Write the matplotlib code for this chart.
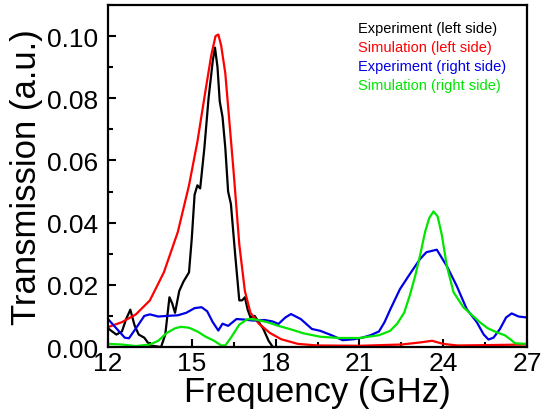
import matplotlib
matplotlib.use("Agg")
import matplotlib.pyplot as plt
from matplotlib.ticker import MultipleLocator

plt.rcParams['font.family'] = ['Liberation Sans', 'DejaVu Sans']

# experiment, left side
f_exp_left = [12.0, 12.3, 12.5, 12.65, 12.8, 12.95, 13.1, 13.3, 13.5, 13.9, 14.05, 14.2, 14.3, 14.4,
              14.55, 14.7, 14.9, 15.0, 15.1, 15.2, 15.3, 15.45, 15.6, 15.75, 15.83, 15.92, 16.0, 16.1,
              16.2, 16.3, 16.4, 16.55, 16.7, 16.8, 16.9, 17.0, 17.1, 17.25, 17.4, 17.55, 17.75, 17.9, 18.2]
t_exp_left = [0.006, 0.004, 0.005, 0.009, 0.012, 0.007, 0.004, 0.003, 0.0005, 0.0, 0.004, 0.016, 0.014, 0.011,
              0.018, 0.021, 0.024, 0.035, 0.049, 0.052, 0.051, 0.064, 0.080, 0.092, 0.0963, 0.090, 0.079, 0.074,
              0.064, 0.050, 0.046, 0.030, 0.015, 0.015, 0.016, 0.012, 0.0095, 0.010, 0.008, 0.006, 0.002, 0.0, 0.0]

# simulation, left side
f_sim_left = [12.0, 12.5, 13.0, 13.5, 14.0, 14.5, 14.9, 15.2, 15.5, 15.7, 15.85, 15.95, 16.05, 16.2,
              16.35, 16.5, 16.7, 16.9, 17.1, 17.4, 17.8, 18.2, 18.8, 19.5, 21.0, 22.5, 23.2, 23.6,
              24.0, 24.5, 25.5, 27.0]
t_sim_left = [0.0064, 0.0080, 0.0105, 0.0150, 0.024, 0.037, 0.052, 0.066, 0.083, 0.094, 0.100, 0.1005, 0.097, 0.088,
              0.072, 0.056, 0.033, 0.018, 0.011, 0.0075, 0.0045, 0.0025, 0.001, 0.0005, 0.0004, 0.0008, 0.0015, 0.002,
              0.001, 0.0005, 0.0006, 0.0008]

# experiment, right side
f_exp_right = [12.0, 12.3, 12.6, 12.75, 13.0, 13.3, 13.5, 13.8, 14.1, 14.5, 14.8, 15.1, 15.35, 15.55,
               15.75, 15.95, 16.1, 16.3, 16.6, 16.9, 17.2, 17.6, 17.9, 18.1, 18.35, 18.55, 18.9, 19.3,
               19.6, 20.0, 20.4, 20.8, 21.1, 21.4, 21.7, 21.9, 22.1, 22.45, 22.8, 23.17, 23.4, 23.77,
               24.13, 24.48, 24.84, 25.2, 25.45, 25.62, 25.8, 26.03, 26.25, 26.45, 26.7, 27.0]
t_exp_right = [0.009, 0.006, 0.003, 0.0028, 0.006, 0.010, 0.0105, 0.0098, 0.0100, 0.0102, 0.011, 0.0125, 0.0128, 0.0115,
               0.008, 0.0053, 0.0075, 0.0068, 0.009, 0.0088, 0.0085, 0.0087, 0.0082, 0.0074, 0.0095, 0.0106, 0.009, 0.0058,
               0.0052, 0.0038, 0.0022, 0.0025, 0.003, 0.0038, 0.005, 0.008, 0.012, 0.0186, 0.0234, 0.0283, 0.0305, 0.0313,
               0.026, 0.0197, 0.0122, 0.008, 0.004, 0.0024, 0.003, 0.0058, 0.0095, 0.0108, 0.0098, 0.0095]

# simulation, right side
f_sim_right = [12.0, 12.5, 13.0, 13.5, 13.8, 14.1, 14.4, 14.6, 14.9, 15.2, 15.5, 15.8, 16.05, 16.2,
               16.4, 16.7, 17.0, 17.3, 17.7, 18.1, 18.5, 19.0, 19.6, 20.3, 21.0, 21.7, 22.1, 22.35,
               22.6, 22.8, 23.0, 23.17, 23.35, 23.5, 23.65, 23.8, 23.95, 24.13, 24.37, 24.72, 25.0, 25.32,
               25.6, 25.92, 26.2, 26.4, 26.57, 27.0]
t_sim_right = [0.001, 0.0008, 0.0003, 0.0008, 0.002, 0.0045, 0.006, 0.0065, 0.0062, 0.005, 0.0033, 0.002, 0.0005, 0.0005,
               0.003, 0.0072, 0.009, 0.0088, 0.008, 0.0068, 0.0058, 0.0044, 0.0033, 0.0029, 0.0029, 0.0038, 0.0052, 0.0075,
               0.011, 0.0165, 0.023, 0.0294, 0.037, 0.0415, 0.0436, 0.042, 0.036, 0.026, 0.0176, 0.0128, 0.0105, 0.0079,
               0.006, 0.0047, 0.0038, 0.0025, 0.0012, 0.001]

labels = ['Experiment (left side)', 'Simulation (left side)',
          'Experiment (right side)', 'Simulation (right side)']
colors = ['black', '#ff0000', '#0000e6', '#00e600']

fig = plt.figure(figsize=(5.41, 4.14), dpi=100)
ax = fig.add_axes([0.1996, 0.1594, 0.7746, 0.8261])

series = [(f_exp_left, t_exp_left), (f_sim_left, t_sim_left),
          (f_exp_right, t_exp_right), (f_sim_right, t_sim_right)]
for (f, t), c in zip(series, colors):
    ax.plot(f, t, color=c, lw=1.6)

ax.set_xlim(12, 27)
ax.set_ylim(0, 0.11)
ax.xaxis.set_major_locator(MultipleLocator(3))
ax.xaxis.set_minor_locator(MultipleLocator(1.5))
ax.yaxis.set_major_locator(MultipleLocator(0.02))
ax.yaxis.set_minor_locator(MultipleLocator(0.01))
ax.yaxis.set_major_formatter(plt.FormatStrFormatter('%.2f'))
ax.tick_params(which='both', direction='in', width=1.5, labelsize=19)
ax.tick_params(axis='x', pad=3)
ax.tick_params(axis='y', pad=7)
ax.tick_params(which='major', length=6)
ax.tick_params(which='minor', length=3.5)
for s in ax.spines.values():
    s.set_linewidth(1.6)

ax.set_xlabel('Frequency (GHz)', fontsize=25, labelpad=0)
ax.set_ylabel('Transmission (a.u.)', fontsize=25, labelpad=3)

# coloured text legend
ypos = [0.933, 0.877, 0.822, 0.766]
for lab, c, y in zip(labels, colors, ypos):
    ax.text(0.597, y, lab, color=c, fontsize=10.5, transform=ax.transAxes, va='center', ha='left')

fig.savefig('out.png', dpi=100)
